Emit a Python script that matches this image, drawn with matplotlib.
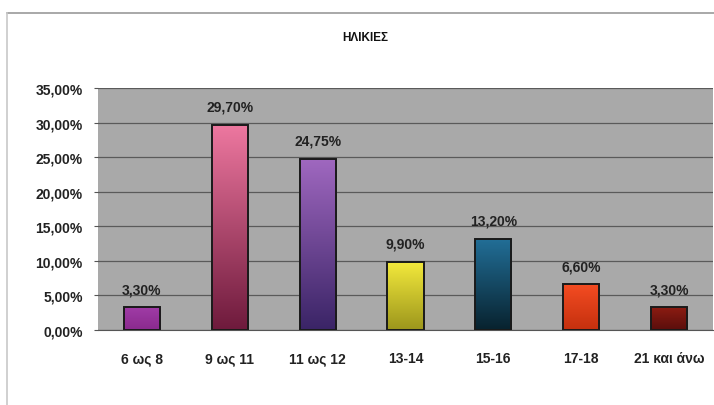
import numpy as np
import matplotlib.pyplot as plt
from matplotlib.colors import LinearSegmentedColormap
from matplotlib.ticker import FuncFormatter
from matplotlib.lines import Line2D

plt.rcParams["font.family"] = ["Liberation Sans", "DejaVu Sans"]

# δεδομένα
categories = ["6 ως 8", "9 ως 11", "11 ως 12", "13-14", "15-16", "17-18", "21 και άνω"]
values = [3.30, 29.70, 24.75, 9.90, 13.20, 6.60, 3.30]
top_colors = ["#a03ca6", "#ee78a0", "#a068c0", "#f4ea3c", "#226f98", "#f44c22", "#8c1c12"]
bottom_colors = ["#8a2a8e", "#6e1a3c", "#3a2466", "#9c961c", "#08222e", "#c4300e", "#5a0e0c"]
y_ticks = [0, 5, 10, 15, 20, 25, 30, 35]

fig = plt.figure(figsize=(7.14, 4.06), dpi=100)
ax = fig.add_axes([98 / 714, 1 - 331 / 406, 615 / 714, 242 / 406])
ax.set_facecolor("#a9a9a9")

x = np.arange(len(categories))
bars = ax.bar(x, values, width=0.41, color="none", edgecolor="#1a1a1a", linewidth=1.4, zorder=3)

# gradient fill for every bar
grad = np.linspace(1, 0, 256).reshape(-1, 1)
for b, c1, c2 in zip(bars, top_colors, bottom_colors):
    cmap = LinearSegmentedColormap.from_list("g", [c2, c1])
    bx, by = b.get_x(), b.get_y()
    w, h = b.get_width(), b.get_height()
    im = ax.imshow(grad, cmap=cmap, aspect="auto", extent=[bx, bx + w, by, by + h],
                   origin="upper", zorder=2)
    im.set_clip_path(b)

for xi, v in zip(x, values):
    ax.text(xi, v + 1.6, f"{v:.2f}%".replace(".", ","), ha="center", va="bottom",
            fontsize=10, fontweight="bold", color="#222222", zorder=4)

ax.set_xlim(-0.5, len(categories) - 0.5)
ax.set_ylim(0, 35)
ax.set_yticks(y_ticks)
ax.yaxis.set_major_formatter(FuncFormatter(lambda v, p: f"{v:.2f}%".replace(".", ",")))
ax.grid(axis="y", color="#5a5a5a", linewidth=0.9, zorder=1)
ax.set_axisbelow(True)
ax.set_xticks(x)
ax.set_xticklabels(categories)
ax.tick_params(axis="x", length=0, pad=15, labelsize=10)
ax.tick_params(axis="y", length=3, pad=8, labelsize=10, color="#555555")
for lab in ax.get_xticklabels() + ax.get_yticklabels():
    lab.set_fontweight("bold")
    lab.set_color("#222222")
for s in ["top", "right", "left"]:
    ax.spines[s].set_visible(False)
ax.spines["bottom"].set_color("#555555")

fig.text(365 / 714, 1 - 38 / 406, "ΗΛΙΚΙΕΣ", ha="center", va="center",
         fontsize=8.5, fontweight="bold", color="#111111")

# frame of the chart area
fig.add_artist(Line2D([7 / 714, 1], [1 - 14 / 406] * 2, color="#9a9a9a", lw=1.2))
fig.add_artist(Line2D([7 / 714] * 2, [0, 1 - 14 / 406], color="#c8c8c8", lw=1.2))

fig.savefig("out.png", dpi=100)
